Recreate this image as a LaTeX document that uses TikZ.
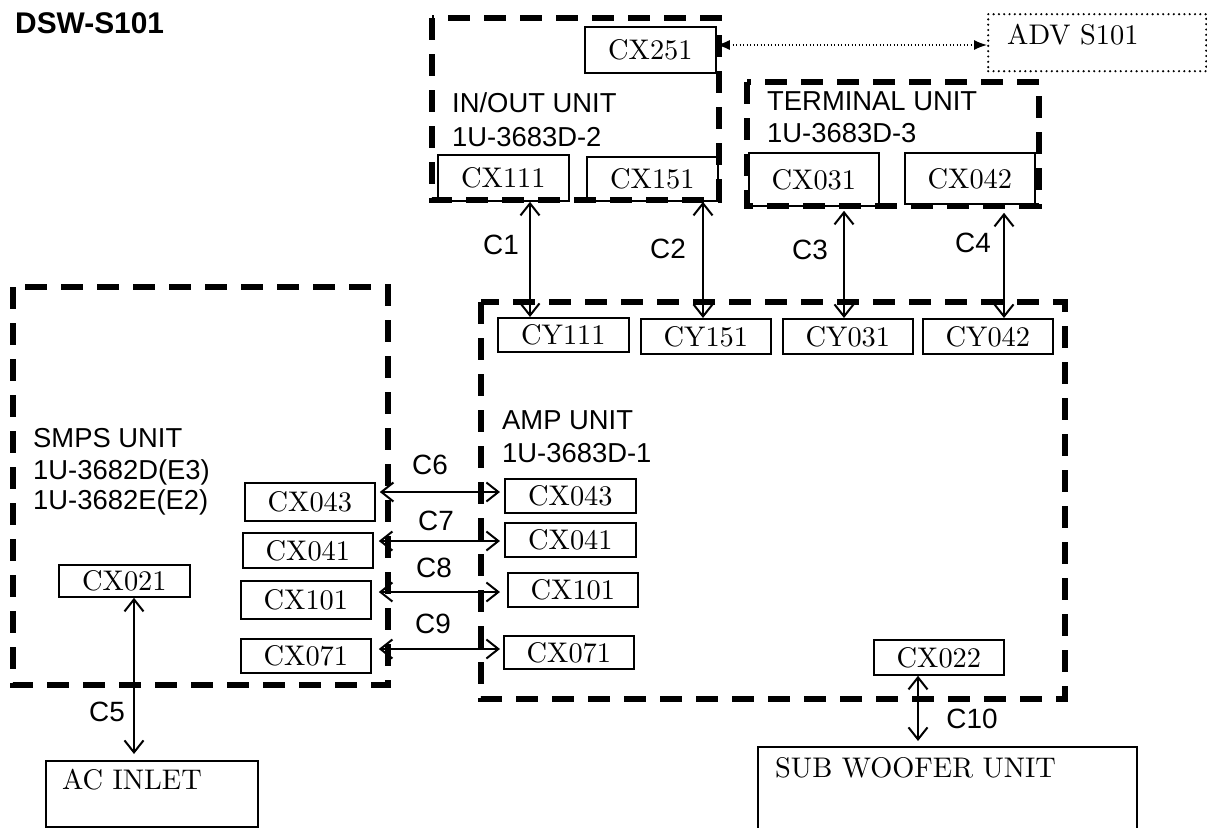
\documentclass[tikz,border=0pt]{standalone}
\usepackage{fontspec}
\setsansfont{Liberation Sans}
\newfontfamily\centfont{lmroman10-regular}[Extension=.otf]
\usetikzlibrary{arrows.meta}
\begin{document}
\begin{tikzpicture}[x=1bp,y=-1bp,
  unitbox/.style={draw=black, line width=5.2bp, dash pattern=on 22bp off 14bp},
  cbox/.style={draw=black, line width=1.8bp, anchor=north west, inner sep=0pt,
    font=\centfont\fontsize{28.5}{32}\selectfont},
  plainbox/.style={draw=black, line width=1.8bp, anchor=north west, inner sep=0pt},
  dotbox/.style={draw=black, line width=2.4bp, line cap=round, dash pattern=on 0bp off 5.3bp,
    anchor=north west, inner sep=0pt},
  rmtext/.style={anchor=base west, inner sep=0pt, font=\centfont\fontsize{28.5}{32}\selectfont},
  unitlabel/.style={anchor=base west, inner sep=0pt, font=\sffamily\fontsize{27.5}{32}\selectfont},
  clabel/.style={anchor=center, inner sep=0pt, font=\sffamily\fontsize{28}{32}\selectfont},
  biarrow/.style={line width=2bp, {Straight Barb[length=12bp,width=19bp]}-{Straight Barb[length=12bp,width=19bp]}},
  dotarrow/.style={line width=1.3bp, dash pattern=on 1.3bp off 2.2bp,
    {Latex[length=13bp,width=10bp]}-{Latex[length=13bp,width=10bp]}}
]
\useasboundingbox (0,0) rectangle (1207,828);

% title
\node[anchor=base west, inner sep=0pt, font=\sffamily\bfseries\fontsize{30}{34}\selectfont]
  (title) at (15,33) {DSW-S101};

% unit (dashed) frames
\draw[unitbox] (432,18) rectangle (719,200);
\draw[unitbox] (747,82) rectangle (1039,206);
\draw[unitbox] (481,302) rectangle (1065,699);
\draw[unitbox] (13,287) rectangle (388,685);

% unit labels
\node[unitlabel] (inoutA) at (452,112) {IN/OUT UNIT};
\node[unitlabel] (inoutB) at (452,146) {1U-3683D-2};
\node[unitlabel] (termA) at (767,110) {TERMINAL UNIT};
\node[unitlabel] (termB) at (767,142) {1U-3683D-3};
\node[unitlabel] (ampA) at (502,429) {AMP UNIT};
\node[unitlabel] (ampB) at (502,462) {1U-3683D-1};
\node[unitlabel] (smpsA) at (33,447) {SMPS UNIT};
\node[unitlabel] (smpsB) at (33,479) {1U-3682D(E3)};
\node[unitlabel] (smpsC) at (33,509) {1U-3682E(E2)};

% connector boxes
\node[cbox, minimum width=131bp, minimum height=46bp] (cx251) at (584,26) {CX251};
\node[cbox, minimum width=131bp, minimum height=46bp] (cx111) at (437,154) {CX111};
\node[cbox, minimum width=131bp, minimum height=44bp] (cx151) at (586,156) {CX151};
\node[cbox, minimum width=130bp, minimum height=53bp] (cx031) at (748,152) {CX031};
\node[cbox, minimum width=130bp, minimum height=51bp] (cx042) at (904,152) {CX042};

\node[cbox, minimum width=131bp, minimum height=34bp] (cy111) at (497,317) {CY111};
\node[cbox, minimum width=130bp, minimum height=35bp] (cy151) at (640,318) {CY151};
\node[cbox, minimum width=130bp, minimum height=35bp] (cy031) at (782,318) {CY031};
\node[cbox, minimum width=130bp, minimum height=35bp] (cy042) at (922,318) {CY042};

\node[cbox, minimum width=130bp, minimum height=38bp] (lcx043) at (244,482) {CX043};
\node[cbox, minimum width=130bp, minimum height=35bp] (lcx041) at (242,532) {CX041};
\node[cbox, minimum width=130bp, minimum height=38bp] (lcx101) at (240,580) {CX101};
\node[cbox, minimum width=130bp, minimum height=34bp] (lcx071) at (240,638) {CX071};

\node[cbox, minimum width=131bp, minimum height=34bp] (rcx043) at (504,478) {CX043};
\node[cbox, minimum width=131bp, minimum height=34bp] (rcx041) at (504,522) {CX041};
\node[cbox, minimum width=130bp, minimum height=34bp] (rcx101) at (507,572) {CX101};
\node[cbox, minimum width=130bp, minimum height=33bp] (rcx071) at (503,635) {CX071};

\node[cbox, minimum width=131bp, minimum height=32bp] (cx021) at (58,564) {CX021};
\node[cbox, minimum width=130bp, minimum height=35bp] (cx022) at (873,639) {CX022};

% external boxes
\node[dotbox, minimum width=218bp, minimum height=57bp] (adv) at (987,13) {};
\node[rmtext] (advt) at (1007,44) {ADV S101};
\node[plainbox, minimum width=212bp, minimum height=66bp] (acin) at (45,760) {};
\node[rmtext] (acint) at (62,789) {AC INLET};
\node[plainbox, minimum width=379bp, minimum height=140bp] (sw) at (757,746) {};
\node[rmtext] (swt) at (775,777) {SUB WOOFER UNIT};

% helper coordinates for connector lines
\coordinate (x1) at (530,0);
\coordinate (x2) at (703,0);
\coordinate (x3) at (844,0);
\coordinate (x4) at (1004,0);
\coordinate (x5) at (134,0);
\coordinate (x10) at (918,0);
\coordinate (ya) at (0,45);
\coordinate (y6) at (0,492);
\coordinate (y7) at (0,541);
\coordinate (y8) at (0,592);
\coordinate (y9) at (0,649);

% connectors
\draw[dotarrow] (cx251.east |- ya) -- (adv.west |- ya);
\draw[biarrow] (cx111.south -| x1) -- (cy111.north -| x1);
\draw[biarrow] (cx151.south -| x2) -- (cy151.north -| x2);
\draw[biarrow, shorten <=4bp] (cx031.south -| x3) -- (cy031.north -| x3);
\draw[biarrow, shorten <=8bp] (cx042.south -| x4) -- (cy042.north -| x4);
\draw[biarrow, shorten >=6bp] (cx021.south -| x5) -- (acin.north -| x5);
\draw[biarrow, shorten <=4bp, shorten >=4bp] (lcx043.east |- y6) -- (rcx043.west |- y6);
\draw[biarrow, shorten <=5bp, shorten >=4bp] (lcx041.east |- y7) -- (rcx041.west |- y7);
\draw[biarrow, shorten <=7bp, shorten >=7bp] (lcx101.east |- y8) -- (rcx101.west |- y8);
\draw[biarrow, shorten <=7bp, shorten >=3bp] (lcx071.east |- y9) -- (rcx071.west |- y9);
\draw[biarrow, shorten >=5bp] (cx022.south -| x10) -- (sw.north -| x10);

% connector labels
\node[clabel] (c1) at (501,245) {C1};
\node[clabel] (c2) at (668,249) {C2};
\node[clabel] (c3) at (810,250) {C3};
\node[clabel] (c4) at (973,243) {C4};
\node[clabel] (c5) at (107,712) {C5};
\node[clabel] (c6) at (430,465) {C6};
\node[clabel] (c7) at (436,521) {C7};
\node[clabel] (c8) at (434,568) {C8};
\node[clabel] (c9) at (433,624) {C9};
\node[clabel] (c10) at (972,719) {C10};
\end{tikzpicture}
\end{document}
